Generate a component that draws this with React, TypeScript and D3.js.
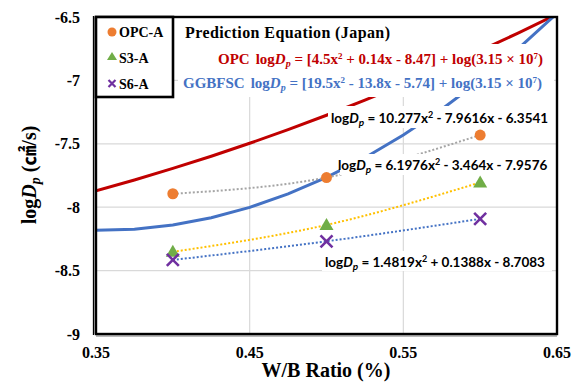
import React from "react";
import * as d3 from "d3";

// Prediction curves
const predX = [0.35, 0.375, 0.4, 0.425, 0.45, 0.475, 0.5, 0.525, 0.55, 0.575, 0.6, 0.625, 0.65];
const opcPred = [-7.87, -7.785, -7.694, -7.598, -7.496, -7.388, -7.275, -7.156, -7.032, -6.902, -6.766, -6.625, -6.478];
const ggbfscPred = [-8.181, -8.173, -8.14, -8.083, -8.001, -7.895, -7.765, -7.61, -7.431, -7.228, -7.0, -6.748, -6.471];

// Measured points
const wb = [0.4, 0.5, 0.6];
const opcA = [-7.894, -7.766, -7.431];
const s3A = [-8.352, -8.14, -7.805];
const s6A = [-8.416, -8.269, -8.092];

const xTicks = [0.35, 0.45, 0.55, 0.65];
const yTicks = [-9, -8.5, -8, -7.5, -7, -6.5];

const W = 586, H = 385;
const L = 96, R = 557, T = 17, B = 334;

const x = d3.scaleLinear().domain([0.35, 0.65]).range([L, R]);
const y = d3.scaleLinear().domain([-9, -6.5]).range([B, T]);

const serif = "'Liberation Serif', 'Times New Roman', serif";
const sans = "Lato, 'Open Sans', sans-serif";

const lineGen = d3.line<[number, number]>().x(d => x(d[0])).y(d => y(d[1]));
const trendGen = d3.line<[number, number]>().x(d => x(d[0])).y(d => y(d[1])).curve(d3.curveNatural);

const zip = (xs: number[], ys: number[]) => xs.map((v, i) => [v, ys[i]] as [number, number]);

function Tri({ cx, cy }: { cx: number; cy: number }) {
  return <path d={`M${cx},${cy - 7}L${cx + 7},${cy + 5}L${cx - 7},${cy + 5}Z`} fill="#70AD47" />;
}
function Cross({ cx, cy, s = 6 }: { cx: number; cy: number; s?: number }) {
  return (
    <path d={`M${cx - s},${cy - s}L${cx + s},${cy + s}M${cx + s},${cy - s}L${cx - s},${cy + s}`} stroke="#7030A0" strokeWidth={2.6} />
  );
}

function TrendLabel({ x0, yb, a, b, c, sb, sc }: any) {
  return (
    <text x={x0} y={yb} fontFamily={sans} fontWeight="bold" fontSize={13.5} fill="#000">
      log<tspan fontStyle="italic">D</tspan>
      <tspan fontStyle="italic" fontSize={10} dy={3}>p</tspan>
      <tspan dy={-3}>{` = ${a}x`}</tspan>
      <tspan fontSize={9} dy={-5}>2</tspan>
      <tspan dy={5}>{` ${sb} ${b}x ${sc} ${c}`}</tspan>
    </text>
  );
}

export default function App() {
  return (
    <svg width={W} height={H} style={{ position: "absolute", left: 0, top: 0, background: "#fff" }}>
      <defs>
        <clipPath id="plot">
          <rect x={L} y={T} width={R - L} height={B - T} />
        </clipPath>
      </defs>
      <rect x={0} y={0} width={W} height={H} fill="#fff" />
      {/* gridlines */}
      {yTicks.filter(t => t > -9 && t < -6.5).map(t => (
        <line key={t} x1={L} x2={R} y1={y(t)} y2={y(t)} stroke="#D9D9D9" strokeWidth={1.2} />
      ))}
      {xTicks.filter(t => t > 0.35 && t < 0.65).map(t => (
        <line key={t} x1={x(t)} x2={x(t)} y1={T} y2={B} stroke="#D9D9D9" strokeWidth={1.2} />
      ))}
      {/* prediction curves */}
      <g clipPath="url(#plot)">
        <path d={lineGen(zip(predX, opcPred)) || ""} fill="none" stroke="#C00000" strokeWidth={3} />
        <path d={lineGen(zip(predX, ggbfscPred)) || ""} fill="none" stroke="#4472C4" strokeWidth={3} />
      </g>
      {/* trendlines */}
      <path d={trendGen(zip(wb, opcA)) || ""} fill="none" stroke="#A5A5A5" strokeWidth={2} strokeDasharray="2,2" />
      <path d={trendGen(zip(wb, s3A)) || ""} fill="none" stroke="#FFC000" strokeWidth={2} strokeDasharray="2,2" />
      <path d={trendGen(zip(wb, s6A)) || ""} fill="none" stroke="#4472C4" strokeWidth={2} strokeDasharray="2,2" />
      {/* markers */}
      {wb.map((w, i) => (
        <circle key={"o" + i} cx={x(w)} cy={y(opcA[i])} r={5.5} fill="#ED7D31" />
      ))}
      {wb.map((w, i) => (
        <Tri key={"t" + i} cx={x(w)} cy={y(s3A[i])} />
      ))}
      {wb.map((w, i) => (
        <Cross key={"c" + i} cx={x(w)} cy={y(s6A[i])} />
      ))}
      {/* white boxes for annotations */}
      <rect x={178} y={T} width={305} height={28} fill="#fff" />
      <rect x={178} y={44} width={376} height={53} fill="#fff" />
      <rect x={328} y={106} width={226} height={22} fill="#fff" />
      <rect x={340} y={154} width={214} height={21} fill="#fff" />
      <rect x={322} y={251} width={230} height={20} fill="#fff" />
      {/* title and prediction equations */}
      <text x={185} y={38} fontFamily={serif} fontWeight="bold" fontSize={16} fill="#000" textLength={205} lengthAdjust="spacing">
        Prediction Equation (Japan)
      </text>
      <text x={218} y={64} fontFamily={serif} fontWeight="bold" fontSize={15} fill="#C00000">
        OPC<tspan dx={6}>log</tspan><tspan fontStyle="italic">D</tspan>
        <tspan fontStyle="italic" fontSize={10} dy={3}>p</tspan>
        <tspan dy={-3}> = [4.5x</tspan>
        <tspan fontSize={9} dy={-5}>2</tspan>
        <tspan dy={5}> + 0.14x - 8.47] + log(3.15 × 10</tspan>
        <tspan fontSize={9} dy={-5}>7</tspan>
        <tspan dy={5}>)</tspan>
      </text>
      <text x={183} y={88} fontFamily={serif} fontWeight="bold" fontSize={15} fill="#4472C4">
        GGBFSC<tspan dx={6}>log</tspan><tspan fontStyle="italic">D</tspan>
        <tspan fontStyle="italic" fontSize={10} dy={3}>p</tspan>
        <tspan dy={-3}> = [19.5x</tspan>
        <tspan fontSize={9} dy={-5}>2</tspan>
        <tspan dy={5}> - 13.8x - 5.74] + log(3.15 × 10</tspan>
        <tspan fontSize={9} dy={-5}>7</tspan>
        <tspan dy={5}>)</tspan>
      </text>
      {/* trendline equations */}
      <TrendLabel x0={331} yb={123} a="10.277" b="7.9616" c="6.3541" sb="-" sc="-" />
      <TrendLabel x0={338} yb={170} a="6.1976" b="3.464" c="7.9576" sb="-" sc="-" />
      <TrendLabel x0={325} yb={267} a="1.4819" b="0.1388" c="8.7083" sb="+" sc="-" />
      {/* frame */}
      <line x1={93.5} x2={93.5} y1={T - 1} y2={B + 1} stroke="#000" strokeWidth={1.3} />
      <line x1={95} x2={95} y1={T} y2={B} stroke="#999" strokeWidth={1.5} />
      <line x1={L} x2={R} y1={B + 2} y2={B + 2} stroke="#777" strokeWidth={1.2} />
      <rect x={L} y={T} width={R - L} height={B - T} fill="none" stroke="#000" strokeWidth={2.4} />
      {/* legend */}
      <rect x={L} y={T} width={77} height={80} fill="#fff" stroke="#000" strokeWidth={2.6} />
      <circle cx={112} cy={32} r={4.5} fill="#ED7D31" />
      <text x={119} y={37} fontFamily={serif} fontWeight="bold" fontSize={14}>OPC-A</text>
      <path d="M112,52L117,60L107,60Z" fill="#70AD47" />
      <text x={119} y={63} fontFamily={serif} fontWeight="bold" fontSize={14}>S3-A</text>
      <path d="M108.5,80L115.5,87M115.5,80L108.5,87" stroke="#7030A0" strokeWidth={2.2} />
      <text x={119} y={89} fontFamily={serif} fontWeight="bold" fontSize={14}>S6-A</text>
      {/* axes labels */}
      {yTicks.map(t => (
        <text key={t} x={80} y={y(t) + 5.5} textAnchor="end" fontFamily={serif} fontWeight="bold" fontSize={16}>
          {String(t)}
        </text>
      ))}
      {xTicks.map(t => (
        <text key={t} x={x(t)} y={358} textAnchor="middle" fontFamily={serif} fontWeight="bold" fontSize={16}>
          {t.toFixed(2)}
        </text>
      ))}
      <text x={326} y={377} textAnchor="middle" fontFamily={serif} fontWeight="bold" fontSize={20}>
        W/B Ratio (%)
      </text>
      <text transform="translate(36,175) rotate(-90)" textAnchor="middle" fontFamily={serif} fontWeight="bold" fontSize={20}>
        log<tspan fontStyle="italic">D</tspan>
        <tspan fontStyle="italic" fontSize={14} dy={4}>p</tspan>
        <tspan dy={-4}> (</tspan>
        <tspan fontFamily="'Noto Sans CJK SC', sans-serif">㎠</tspan>
        <tspan>/s)</tspan>
      </text>
    </svg>
  );
}
